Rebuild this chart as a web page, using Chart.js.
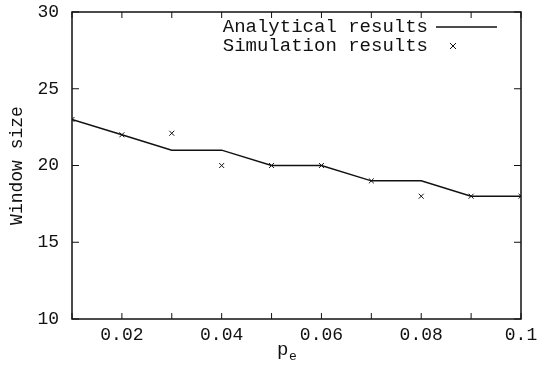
<!DOCTYPE html>
<html>
<head>
<meta charset="utf-8">
<script src="https://cdn.jsdelivr.net/npm/chart.js@4"></script>
<style>
    html, body { margin: 0; padding: 0; background: #fff; }
    #wrap { width: 539px; height: 385px; }
</style>
</head>
<body>
<div id="wrap"><canvas id="windowChart"></canvas></div>
<script>
// values
const pe = [0.01, 0.02, 0.03, 0.04, 0.05, 0.06, 0.07, 0.08, 0.09, 0.1];
const analytical = [23, 22, 21, 21, 20, 20, 19, 19, 18, 18];
const simulation = [23, 22, 22.1, 20, 20, 20, 19, 18, 18, 18];
const xTickLabels = ['0.02', '0.04', '0.06', '0.08', '0.1'];
const yTickLabels = ['10', '15', '20', '25', '30'];

const FONT = '"Liberation Mono", "DejaVu Sans Mono", monospace';
const INK = '#111';

// gnuplot style frame, inward mirrored ticks, legend and axis titles
const framePlugin = {
    id: 'frame',
    afterDraw(chart) {
        const c = chart.ctx;
        const a = chart.chartArea;
        const xs = chart.scales.x, ys = chart.scales.y;
        c.save();
        c.strokeStyle = INK;
        c.lineWidth = 1.5;
        c.strokeRect(a.left, a.top, a.right - a.left, a.bottom - a.top);

        c.lineWidth = 1;
        c.beginPath();
        xs.ticks.forEach(t => {
            const px = xs.getPixelForValue(t.value);
            c.moveTo(px, a.bottom); c.lineTo(px, a.bottom - 6);
            c.moveTo(px, a.top); c.lineTo(px, a.top + 6);
        });
        ys.ticks.forEach(t => {
            const py = ys.getPixelForValue(t.value);
            c.moveTo(a.left, py); c.lineTo(a.left + 7, py);
            c.moveTo(a.right, py); c.lineTo(a.right - 7, py);
        });
        c.stroke();

        // legend
        c.fillStyle = INK;
        c.font = '19px ' + FONT;
        c.textAlign = 'right';
        c.textBaseline = 'middle';
        c.fillText('Analytical results', 428, 27);
        c.fillText('Simulation results', 428, 46);
        c.lineWidth = 1.5;
        c.beginPath();
        c.moveTo(436, 27); c.lineTo(497, 27);
        c.stroke();
        c.lineWidth = 1;
        c.beginPath();
        c.moveTo(450, 43); c.lineTo(456, 49);
        c.moveTo(456, 43); c.lineTo(450, 49);
        c.stroke();

        // y title
        c.save();
        c.translate(17, (a.top + a.bottom) / 2);
        c.rotate(-Math.PI / 2);
        c.textAlign = 'center';
        c.font = '18px ' + FONT;
        c.fillText('Window size', 0, 0);
        c.restore();

        // x title p_e
        c.textAlign = 'left';
        c.textBaseline = 'alphabetic';
        c.font = '19px ' + FONT;
        c.fillText('p', 277, 355);
        c.font = '13px ' + FONT;
        c.fillText('e', 289, 360);
        c.restore();
    }
};

const ctx = document.getElementById('windowChart').getContext('2d');
new Chart(ctx, {
    type: 'line',
    data: {
        datasets: [
            {
                label: 'Analytical results',
                data: pe.map((p, i) => ({ x: p, y: analytical[i] })),
                borderColor: INK,
                borderWidth: 1.5,
                pointRadius: 0,
                tension: 0
            },
            {
                label: 'Simulation results',
                data: pe.map((p, i) => ({ x: p, y: simulation[i] })),
                showLine: false,
                pointStyle: 'crossRot',
                pointRadius: 3.5,
                borderColor: INK,
                pointBorderWidth: 1
            }
        ]
    },
    plugins: [framePlugin],
    options: {
        responsive: true,
        maintainAspectRatio: false,
        animation: false,
        layout: { padding: { top: 12, right: 18, left: 0, bottom: 0 } },
        plugins: { legend: { display: false }, tooltip: { enabled: false } },
        scales: {
            x: {
                type: 'linear',
                min: 0.01,
                max: 0.1,
                grid: { display: false, drawTicks: false },
                border: { display: false },
                afterFit(s) { s.height = 66; s.paddingLeft = 0; s.paddingRight = 0; },
                ticks: {
                    stepSize: 0.01,
                    autoSkip: false,
                    maxRotation: 0,
                    padding: 5,
                    color: INK,
                    font: { family: FONT, size: 18 },
                    callback: v => {
                        const lbl = xTickLabels.find(t => Math.abs(parseFloat(t) - v) < 1e-6);
                        return lbl || '';
                    }
                }
            },
            y: {
                min: 10,
                max: 30,
                grid: { display: false, drawTicks: false },
                border: { display: false },
                afterFit(s) { s.width = 72; s.paddingTop = 0; s.paddingBottom = 0; },
                ticks: {
                    stepSize: 5,
                    padding: 13,
                    color: INK,
                    font: { family: FONT, size: 18 },
                    callback: v => yTickLabels.find(t => Number(t) === v) || ''
                }
            }
        }
    }
});
</script>
</body>
</html>
